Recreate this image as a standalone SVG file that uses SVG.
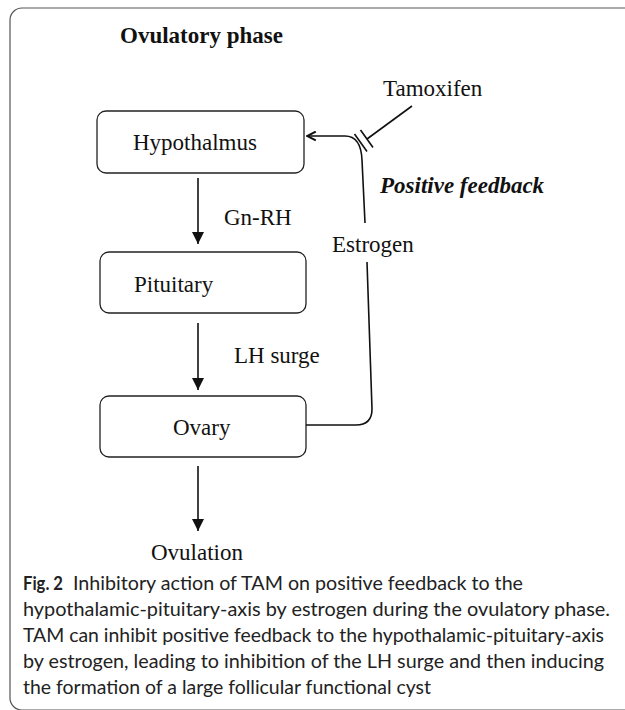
<svg xmlns="http://www.w3.org/2000/svg" width="625" height="710" viewBox="0 0 625 710">
<style>
.box{fill:#fff;stroke:#222;stroke-width:1.3}
.lbl{font-family:"Liberation Serif","Times New Roman",serif;font-size:23px;fill:#111}
.ln{fill:none;stroke:#111;stroke-width:1.6}
.cap{font-family:Lato,"Noto Sans",sans-serif;font-size:19px;fill:#222}
</style>
<defs>
<marker id="ah" viewBox="0 0 12 12" refX="12" refY="6" markerWidth="12" markerHeight="12" markerUnits="userSpaceOnUse" orient="auto">
<path d="M0,0 L12,6 L0,12 Z" fill="#111"/>
</marker>
<marker id="ao" viewBox="0 0 10 10" refX="9" refY="5" markerWidth="11" markerHeight="11" markerUnits="userSpaceOnUse" orient="auto">
<path d="M1,1 L9,5 L1,9" fill="none" stroke="#111" stroke-width="1.8"/>
</marker>
</defs>
<rect x="10" y="8" width="700" height="702" rx="12" fill="#fff" stroke="#555" stroke-width="1.2"/>
<text x="120" y="43" class="lbl" font-weight="bold">Ovulatory phase</text>
<g id="hypothalmus">
<rect class="box" x="97" y="111" width="207" height="62" rx="9"/>
<text class="lbl" x="133" y="150">Hypothalmus</text>
</g>
<g id="pituitary">
<rect class="box" x="100" y="252" width="206" height="61" rx="9"/>
<text class="lbl" x="134" y="292">Pituitary</text>
</g>
<g id="ovary">
<rect class="box" x="100" y="396" width="206" height="61" rx="9"/>
<text class="lbl" x="173" y="435">Ovary</text>
</g>
<g id="ovulation">
<text class="lbl" x="151" y="560">Ovulation</text>
</g>
<g id="tamoxifen">
<text class="lbl" x="383" y="96">Tamoxifen</text>
</g>
<g id="connectors">
<line class="ln" x1="198" y1="178" x2="198" y2="244" marker-end="url(#ah)"/>
<line class="ln" x1="198" y1="323" x2="198" y2="390" marker-end="url(#ah)"/>
<line class="ln" x1="198" y1="466" x2="198" y2="531" marker-end="url(#ah)"/>
<path class="ln" d="M306,425 L356,425 Q372,425 372,409 L367,262"/>
<path class="ln" d="M365,223 L362,160 Q361,136 345,136 L307,136" marker-end="url(#ao)"/>
<line class="ln" x1="412" y1="106" x2="367" y2="139"/>
<line class="ln" x1="360.5" y1="130" x2="373" y2="147.5"/>
<line class="ln" x1="354.5" y1="134" x2="367" y2="151.5"/>
<text class="lbl" x="224" y="225">Gn-RH</text>
<text class="lbl" x="234" y="363">LH surge</text>
<text class="lbl" x="332" y="252">Estrogen</text>
<text class="lbl" x="380" y="193" font-weight="bold" font-style="italic">Positive feedback</text>
</g>
<g id="caption">
<text class="cap" x="23" y="590" font-weight="bold" textLength="40" lengthAdjust="spacingAndGlyphs">Fig. 2</text>
<text class="cap" x="73" y="590" textLength="450" lengthAdjust="spacingAndGlyphs">Inhibitory action of TAM on positive feedback to the</text>
<text class="cap" x="23" y="616" textLength="587" lengthAdjust="spacingAndGlyphs">hypothalamic-pituitary-axis by estrogen during the ovulatory phase.</text>
<text class="cap" x="23" y="642" textLength="581" lengthAdjust="spacingAndGlyphs">TAM can inhibit positive feedback to the hypothalamic-pituitary-axis</text>
<text class="cap" x="23" y="668" textLength="581" lengthAdjust="spacingAndGlyphs">by estrogen, leading to inhibition of the LH surge and then inducing</text>
<text class="cap" x="23" y="694" textLength="408" lengthAdjust="spacingAndGlyphs">the formation of a large follicular functional cyst</text>
</g>
</svg>
